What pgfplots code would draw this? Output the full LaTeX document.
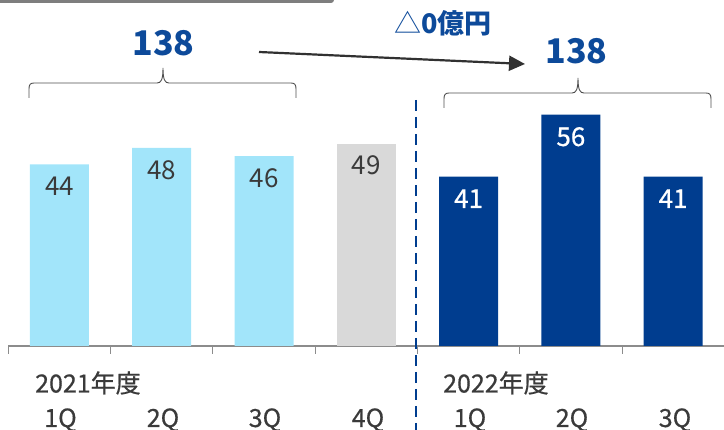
\documentclass[border=0pt]{standalone}
\usepackage{fontspec}
\setmainfont{Noto Sans CJK JP}
\newfontfamily\medfont{Noto Sans CJK JP}[FakeBold=0.6]
\usepackage{pgfplots}
\pgfplotsset{compat=1.18}
\usetikzlibrary{arrows.meta}
\definecolor{lb}{HTML}{A2E5FA}
\definecolor{gb}{HTML}{D9D9D9}
\definecolor{db}{HTML}{003D8F}
\definecolor{tb}{HTML}{0D4A9A}
\definecolor{tx}{HTML}{3A3A3A}
\definecolor{ax}{HTML}{8C8C8C}
\begin{document}
\begin{tikzpicture}
\begin{axis}[
  at={(8.3pt,84pt)}, anchor=south west,
  scale only axis, width=716pt, height=346pt,
  xmin=-0.5, xmax=6.5, ymin=0, ymax=83.78,
  axis x line=bottom, axis y line=none,
  axis line style={-, draw=ax, line width=1.3pt},
  xtick={-0.5,0.5,1.5,2.5,3.5,4.5,5.5}, xticklabels={},
  tick align=inside, major tick length=8pt,
  tick style={draw=ax, line width=1pt},
  ytick=\empty,
  ybar, bar width=59pt, bar shift=0pt,
  clip=false,
  /pgf/number format/assume math mode=true,
  nodes near coords,
  every node near coord/.append style={anchor=center, yshift=-22pt, font=\fontsize{26}{26}\selectfont},
]
\addplot[fill=lb, draw=none, every node near coord/.append style={text=tx}] coordinates {(0,44) (1,48) (2,46)};
\addplot[fill=gb, draw=none, every node near coord/.append style={text=tx}] coordinates {(3,49)};
\addplot[fill=db, draw=none, every node near coord/.append style={text=white, font=\fontsize{26}{26}\selectfont\medfont}] coordinates {(4,41) (5,56) (6,41)};
\end{axis}
\begin{scope}[x=1pt, y=-1pt, shift={(0pt,430pt)}]
  % top gray bar
  \fill[ax!90!black, rounded corners=3pt] (-6,-6) rectangle (334,3);
  % dashed separator
  \draw[db, line width=2.3pt, dash pattern=on 11pt off 6pt] (416,100) -- (416,432);
  % braces
  \draw[tx!90, line width=0.9pt] (29,98) -- (29,89) .. controls (29,85) and (30,83) .. (34,83)
     -- (157,83) .. controls (161,83) and (163,80) .. (163,68)
     .. controls (163,80) and (165,83) .. (169,83) -- (291,83)
     .. controls (295,83) and (296,85) .. (296,89) -- (296,98);
  \draw[tx!90, line width=0.9pt] (444,108) -- (444,99) .. controls (444,95) and (445,93) .. (449,93)
     -- (572,93) .. controls (576,93) and (578,90) .. (578,78)
     .. controls (578,90) and (580,93) .. (584,93) -- (706,93)
     .. controls (710,93) and (711,95) .. (711,99) -- (711,108);
  % totals
  \node[anchor=base, text=tb, font=\fontsize{34}{34}\selectfont\bfseries] at (163.5,56) {138};
  \node[anchor=base, text=tb, font=\fontsize{34}{34}\selectfont\bfseries] at (576.5,64) {138};
  % arrow
  \draw[tx!85!black, line width=2.2pt, -{Triangle[length=16pt,width=15pt]}] (259,52) -- (525,64);
  \node[anchor=base west, text=tb, inner sep=0pt, font=\fontsize{27}{27}\selectfont] at (394,34) {△\textbf{0億円}};
  % year labels
  \node[anchor=base west, text=tx, inner sep=0pt, font=\fontsize{25}{25}\selectfont\medfont] at (35,392.5) {2021年度};
  \node[anchor=base west, text=tx, inner sep=0pt, font=\fontsize{25}{25}\selectfont\medfont] at (443,392.5) {2022年度};
  % quarter labels
  \foreach \xx/\lab in {60.5/1Q,163/2Q,265/3Q,368/4Q,470/1Q,572/2Q,675/3Q}
    \node[anchor=base, text=tx, inner sep=0pt, font=\fontsize{25}{25}\selectfont\medfont] at (\xx,427) {\lab};
\end{scope}
\pgfresetboundingbox
\useasboundingbox (0,0) rectangle (724pt,430pt);
\end{tikzpicture}
\end{document}
